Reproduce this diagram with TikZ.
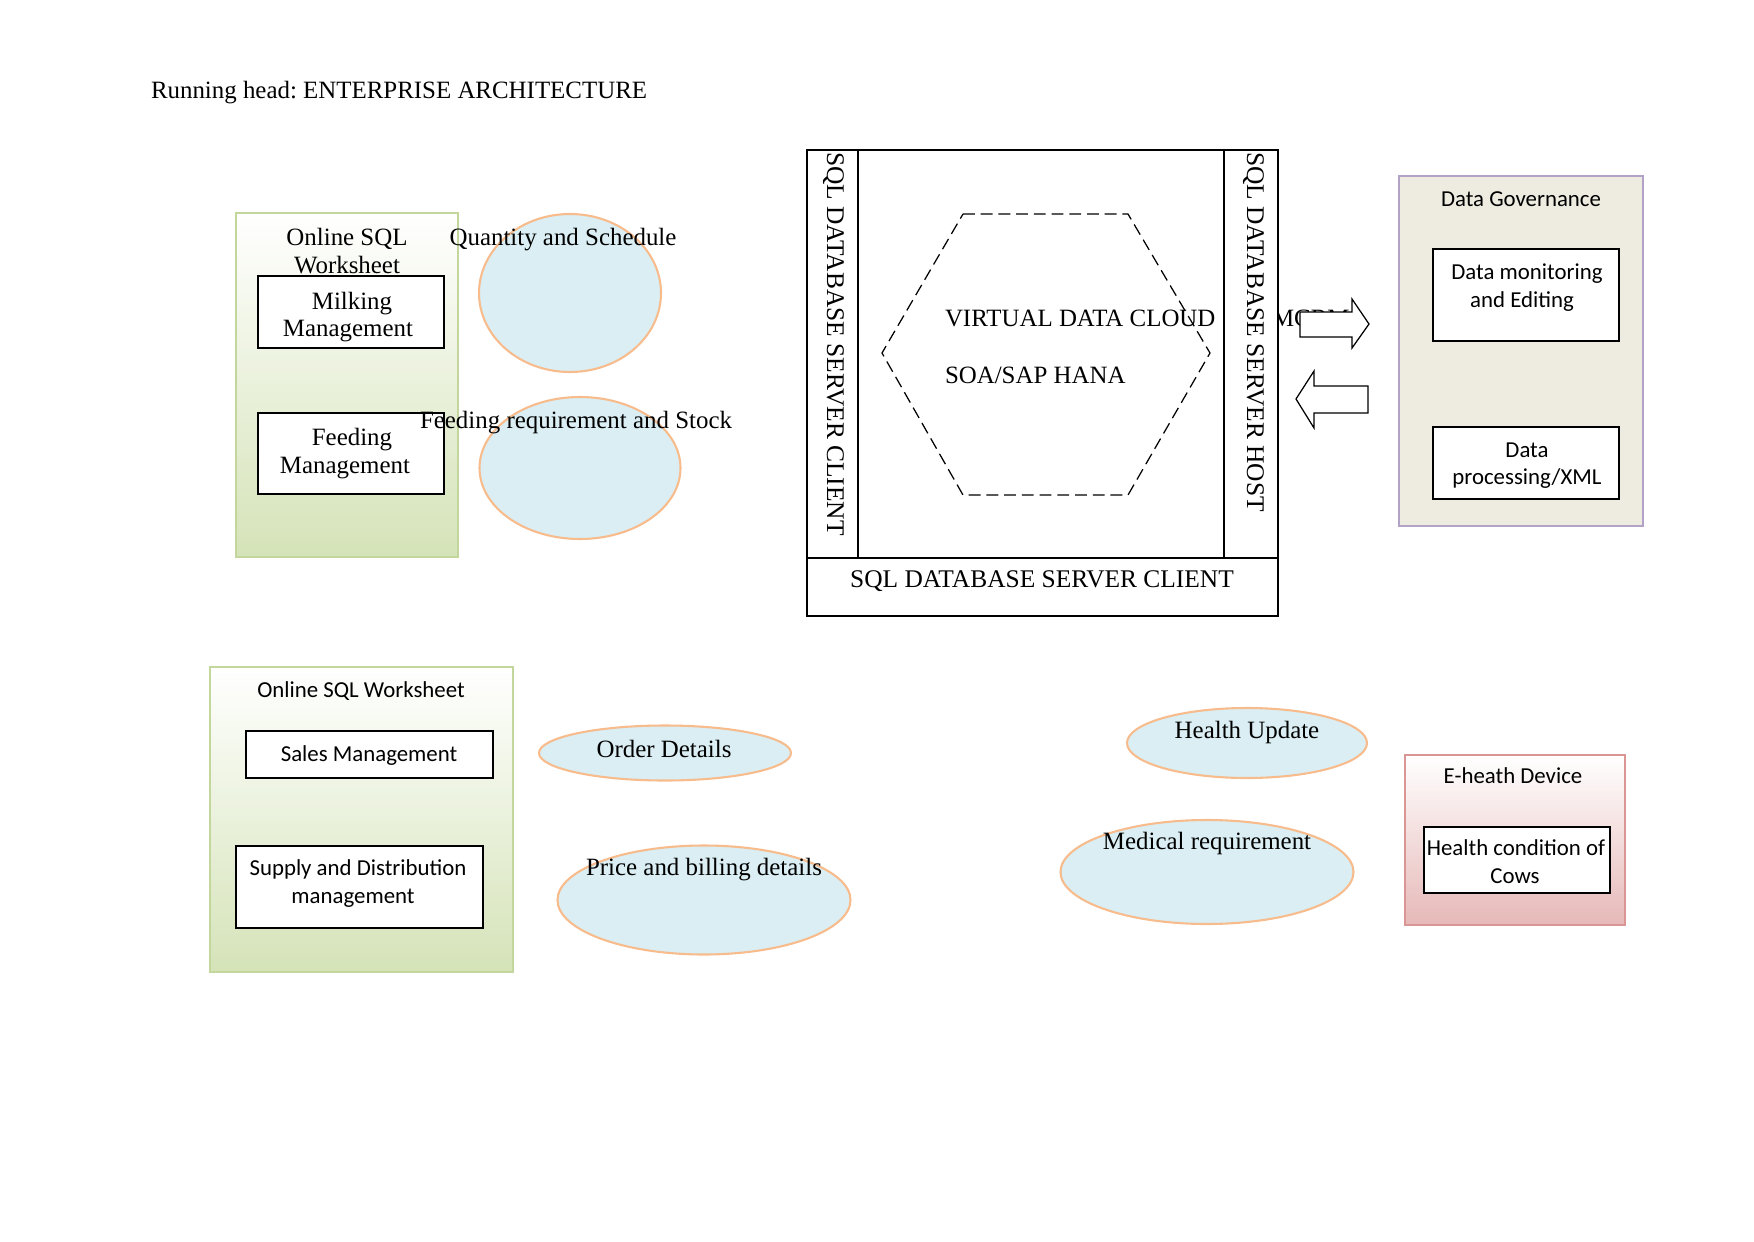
\documentclass[tikz,border=0pt]{standalone}
\usepackage{fontspec}
\setmainfont{Liberation Serif}
\newfontfamily\calfont{Carlito}
\usetikzlibrary{shapes.geometric,fit}
\newcommand\pxu{0.16933mm}
\definecolor{grnborder}{HTML}{C3D69B}
\definecolor{grnbottom}{HTML}{D5E3B8}
\definecolor{ellfill}{HTML}{DAEEF3}
\definecolor{ellborder}{HTML}{F7BB8C}
\definecolor{govfill}{HTML}{EEECE1}
\definecolor{govborder}{HTML}{B3A2C7}
\definecolor{pinkborder}{HTML}{D99694}
\definecolor{pinkbottom}{HTML}{E6B9B8}
\frenchspacing
\tikzset{
  every node/.style={inner sep=0pt, outer sep=0pt},
  tnr/.style={font=\fontsize{12}{13.6}\selectfont, anchor=base},
  tnrw/.style={font=\fontsize{12.25}{13.6}\selectfont, anchor=base},
  cbr/.style={font=\calfont\fontsize{11}{13.4}\selectfont, anchor=base},
  wbox/.style={draw=black, fill=white, line width=0.6pt, rectangle},
  grnbox/.style={draw=grnborder, line width=1pt, top color=white, bottom color=grnbottom},
  govbox/.style={draw=govborder, line width=1.2pt, fill=govfill},
  pinkbox/.style={draw=pinkborder, line width=1pt, top color=white, bottom color=pinkbottom},
  ell/.style={ellipse, draw=ellborder, fill=ellfill, line width=1pt},
  blk/.style={draw=black, line width=0.6pt, fill=white},
  hexa/.style={draw=black, line width=0.6pt, dash pattern=on 2mm off 1mm},
}
\begin{document}
\begin{tikzpicture}[x=\pxu, y=-\pxu]
\useasboundingbox (0,0) rectangle (1754,1241);
% header
\node[tnr, anchor=base west] (head) at (151,98) {Running head: ENTERPRISE ARCHITECTURE};

% top-left worksheet
\node[grnbox, fit={(236,213) (458,557)}] (ws1) {};
\node[tnr] (ws1a) at (347,245) {Online SQL};
\node[tnr] (ws1b) at (347,273) {Worksheet};
\node[wbox, fit={(258,276) (444,348)}] (milk) {};
\node[tnr] (milka) at (352,309) {Milking};
\node[tnr] (milkb) at (348,336) {Management};
\node[wbox, fit={(258,413) (444,494)}] (feed) {};
\node[tnr] (feeda) at (352,445) {Feeding};
\node[tnr] (feedb) at (345,473) {Management};
\node[ell, minimum width={182*\pxu}, minimum height={158*\pxu}] (e1) at (570,293) {};
\node[ell, minimum width={201*\pxu}, minimum height={142*\pxu}] (e2) at (580,468) {};
\node[tnr] (e1t) at (563,245) {Quantity and Schedule};
\node[tnr] (e2t) at (576,428) {Feeding requirement and Stock};

% central server block
\node[blk, fit={(807,150) (1278,616)}] (srv) {};
\node[tnr, anchor=base west] (mcrm) at (1272,326) {MCRM};
\node[blk, fit={(807,150) (858,558)}] (lcol) {};
\node[blk, fit={(1224,150) (1278,558)}] (rcol) {};
\node[blk, fit={(807,558) (1278,616)}] (bbar) {};
\node[tnrw, rotate=-90, anchor=base west] (lcolt) at (827,152) {SQL DATABASE SERVER CLIENT};
\node[tnrw, rotate=-90, anchor=base west] (rcolt) at (1247,152) {SQL DATABASE SERVER HOST};
\node[tnrw] (bbart) at (1042,587) {SQL DATABASE SERVER CLIENT};
\draw[hexa] (963,214) -- (1128,214) -- (1210,353) -- (1128,495) -- (963,495) -- (882,353) -- cycle;
\node[tnr, anchor=base west] (vdc) at (945,326) {VIRTUAL DATA CLOUD};
\node[tnr, anchor=base west] (soa) at (945,383) {SOA/SAP HANA};

% block arrows
\draw[blk] (1300,312) -- (1352,312) -- (1352,299) -- (1369,324) -- (1352,348) -- (1352,337) -- (1300,337) -- cycle;
\draw[blk] (1368,386) -- (1314,386) -- (1314,371) -- (1296,399) -- (1314,428) -- (1314,413) -- (1368,413) -- cycle;

% data governance
\node[govbox, fit={(1399,176) (1643,526)}] (gov) {};
\node[cbr] (govt) at (1521,206) {Data Governance};
\node[wbox, fit={(1433,249) (1619,341)}] (dm) {};
\node[cbr] (dma) at (1527,279) {Data monitoring};
\node[cbr] (dmb) at (1522,307) {and Editing};
\node[wbox, fit={(1433,427) (1619,499)}] (dp) {};
\node[cbr] (dpa) at (1527,457) {Data};
\node[cbr] (dpb) at (1527,484) {processing/XML};

% bottom-left worksheet
\node[grnbox, fit={(210,667) (513,972)}] (ws2) {};
\node[cbr] (ws2t) at (361,697) {Online SQL Worksheet};
\node[wbox, fit={(246,731) (493,778)}] (sales) {};
\node[cbr] (salest) at (369,761) {Sales Management};
\node[wbox, fit={(236,846) (483,928)}] (sup) {};
\node[cbr] (supa) at (358,875) {Supply and Distribution};
\node[cbr] (supb) at (353,903) {management};

\node[ell, minimum width={252*\pxu}, minimum height={55*\pxu}] (ord) at (665,753) {};
\node[tnr] (ordt) at (664,757) {Order Details};
\node[ell, minimum width={293*\pxu}, minimum height={109*\pxu}] (price) at (704,900) {};
\node[tnr] (pricet) at (704,875) {Price and billing details};

\node[ell, minimum width={240*\pxu}, minimum height={70*\pxu}] (hu) at (1247,743) {};
\node[tnr] (hut) at (1247,738) {Health Update};
\node[ell, minimum width={293*\pxu}, minimum height={104*\pxu}] (med) at (1207,872) {};
\node[tnr] (medt) at (1207,849) {Medical requirement};

% e-health device
\node[pinkbox, fit={(1405,755) (1625,925)}] (eh) {};
\node[cbr] (eht) at (1513,783) {E-heath Device};
\node[wbox, fit={(1424,827) (1610,893)}] (hc) {};
\node[cbr] (hca) at (1516,855) {Health condition of};
\node[cbr] (hcb) at (1515,883) {Cows};
\end{tikzpicture}
\end{document}
